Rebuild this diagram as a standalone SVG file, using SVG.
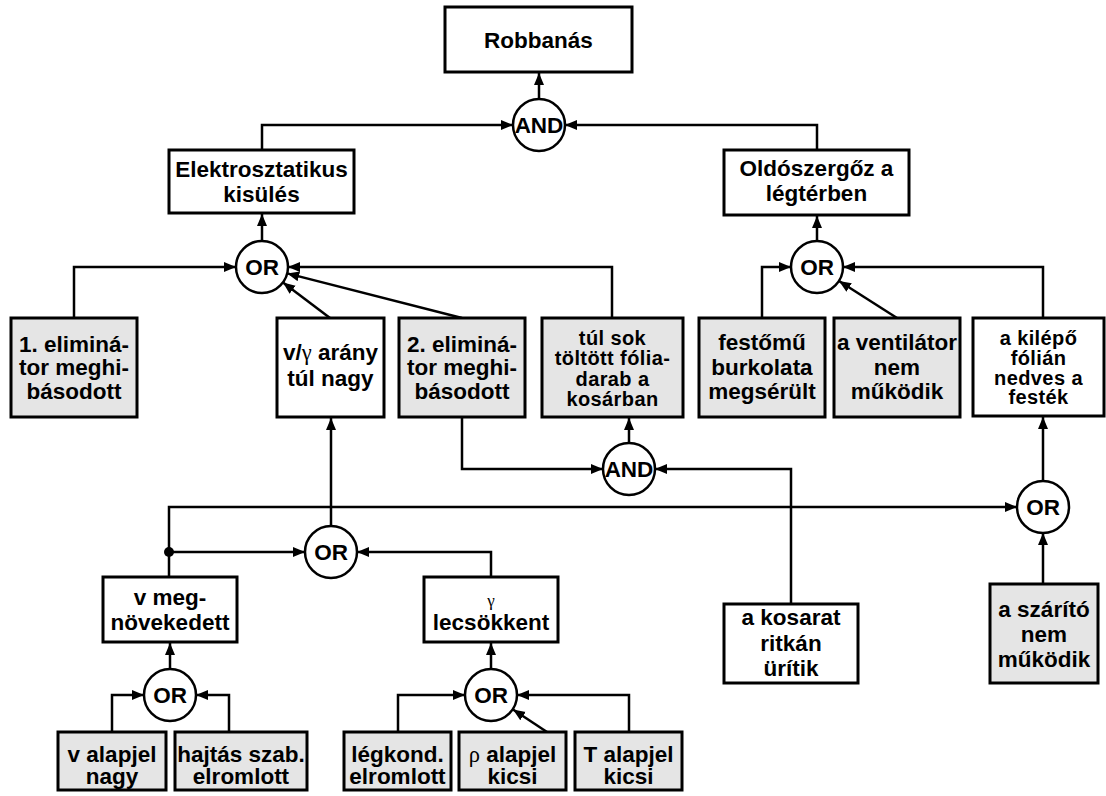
<svg xmlns="http://www.w3.org/2000/svg" width="1106" height="796" viewBox="0 0 1106 796">
<style>
.box{stroke:#000;stroke-width:3;fill:#fff}
.g{fill:#e5e5e5}
.gate{stroke:#000;stroke-width:2.5;fill:#fff}
.t{font-family:"Liberation Sans",Arial,sans-serif;font-weight:bold;font-size:22.5px;text-anchor:middle;fill:#000}
.s{font-size:20px;letter-spacing:0.4px}
.sym{font-family:"Liberation Serif","DejaVu Serif",serif;font-weight:normal}
.c{fill:none;stroke:#000;stroke-width:2.5}
</style>
<defs>
<marker id="ah" markerUnits="userSpaceOnUse" markerWidth="13" markerHeight="11" refX="12" refY="5" orient="auto" viewBox="0 0 13 11">
<path d="M0,0 L12,5 L0,10 z" fill="#000"/>
</marker>
</defs>
<rect width="1106" height="796" fill="#fff"/>
<g id="connectors">
<path class="c" marker-end="url(#ah)" d="M539,99 V73"/>
<path class="c" marker-end="url(#ah)" d="M262,150 V125 H513"/>
<path class="c" marker-end="url(#ah)" d="M817,150 V125 H565"/>
<path class="c" marker-end="url(#ah)" d="M262,241 V214"/>
<path class="c" marker-end="url(#ah)" d="M74,318 V267 H236"/>
<path class="c" marker-end="url(#ah)" d="M330,318 L283,282.6"/>
<path class="c" marker-end="url(#ah)" d="M462,318 L287.2,273.4"/>
<path class="c" marker-end="url(#ah)" d="M612,318 V267 H288"/>
<path class="c" marker-end="url(#ah)" d="M817,241 V216"/>
<path class="c" marker-end="url(#ah)" d="M762,318 V267 H791"/>
<path class="c" marker-end="url(#ah)" d="M897,318 L839,281"/>
<path class="c" marker-end="url(#ah)" d="M1043,318 V267 H843"/>
<path class="c" marker-end="url(#ah)" d="M629,443 V418"/>
<path class="c" marker-end="url(#ah)" d="M462,417 V469 H603"/>
<path class="c" marker-end="url(#ah)" d="M791,604 V469 H655"/>
<path class="c" marker-end="url(#ah)" d="M1043,481 V417"/>
<path class="c" marker-end="url(#ah)" d="M1043,584 V533"/>
<path class="c" marker-end="url(#ah)" d="M169,577 V507 H1017"/>
<path class="c" marker-end="url(#ah)" d="M169,552 H305"/>
<circle cx="169" cy="552" r="5" fill="#000"/>
<path class="c" marker-end="url(#ah)" d="M331,526 V418"/>
<path class="c" marker-end="url(#ah)" d="M491,577 V552 H357"/>
<path class="c" marker-end="url(#ah)" d="M170,669 V643"/>
<path class="c" marker-end="url(#ah)" d="M112,732 V695 H144"/>
<path class="c" marker-end="url(#ah)" d="M229,732 V695 H196"/>
<path class="c" marker-end="url(#ah)" d="M491,669 V643"/>
<path class="c" marker-end="url(#ah)" d="M398,732 V695 H465"/>
<path class="c" marker-end="url(#ah)" d="M547,732 L513,709.5"/>
<path class="c" marker-end="url(#ah)" d="M629,732 V695 H517"/>
</g>
<g id="robbanas"><rect class="box" x="445" y="7" width="187" height="65"/><text class="t" x="538.5" y="48">Robbanás</text></g>
<g id="and-top"><circle class="gate" cx="539" cy="125" r="26"/><text class="t" x="539" y="133">AND</text></g>
<g id="elektro"><rect class="box" x="169" y="150" width="185" height="63"/><text class="t" x="261.5" y="177">Elektrosztatikus</text><text class="t" x="261.5" y="202">kisülés</text></g>
<g id="oldoszer"><rect class="box" x="724" y="150" width="185" height="65"/><text class="t" x="816.5" y="176">Oldószergőz a</text><text class="t" x="816.5" y="201">légtérben</text></g>
<g id="or-left"><circle class="gate" cx="262" cy="267" r="26"/><text class="t" x="262" y="275">OR</text></g>
<g id="or-right"><circle class="gate" cx="817" cy="267" r="26"/><text class="t" x="817" y="275">OR</text></g>
<g id="elim1"><rect class="box g" x="11" y="318" width="126" height="99"/><text class="t" x="74" y="352">1. eliminá-</text><text class="t" x="74" y="375">tor meghi-</text><text class="t" x="74" y="399">básodott</text></g>
<g id="vgamma"><rect class="box" x="277" y="318" width="107" height="99"/><text class="t" x="330.5" y="360">v/<tspan class="sym">γ</tspan> arány</text><text class="t" x="330.5" y="386">túl nagy</text></g>
<g id="elim2"><rect class="box g" x="399" y="318" width="126" height="99"/><text class="t" x="462" y="352">2. eliminá-</text><text class="t" x="462" y="375">tor meghi-</text><text class="t" x="462" y="399">básodott</text></g>
<g id="tulsok"><rect class="box g" x="542" y="318" width="141" height="99"/><text class="t s" x="612.5" y="345">túl sok</text><text class="t s" x="612.5" y="365">töltött fólia-</text><text class="t s" x="612.5" y="386">darab a</text><text class="t s" x="612.5" y="406">kosárban</text></g>
<g id="festomu"><rect class="box g" x="699" y="318" width="126" height="99"/><text class="t" x="762" y="350">festőmű</text><text class="t" x="762" y="375">burkolata</text><text class="t" x="762" y="399">megsérült</text></g>
<g id="ventilator"><rect class="box g" x="834" y="318" width="126" height="99"/><text class="t" x="897" y="350">a ventilátor</text><text class="t" x="897" y="375">nem</text><text class="t" x="897" y="399">működik</text></g>
<g id="kilepo"><rect class="box" x="973" y="318" width="131" height="98"/><text class="t s" x="1038.5" y="345">a kilépő</text><text class="t s" x="1038.5" y="365">fólián</text><text class="t s" x="1038.5" y="385">nedves a</text><text class="t s" x="1038.5" y="404">festék</text></g>
<g id="and-mid"><circle class="gate" cx="629" cy="469" r="26"/><text class="t" x="629" y="477">AND</text></g>
<g id="or-kilepo"><circle class="gate" cx="1043" cy="507" r="26"/><text class="t" x="1043" y="515">OR</text></g>
<g id="or-mid"><circle class="gate" cx="331" cy="552" r="26"/><text class="t" x="331" y="560">OR</text></g>
<g id="vmeg"><rect class="box" x="103" y="577" width="134" height="65"/><text class="t" x="170" y="605">v meg-</text><text class="t" x="170" y="630">növekedett</text></g>
<g id="glecs"><rect class="box" x="424" y="577" width="134" height="65"/><text class="t sym" x="491" y="606" style="font-size:17px">γ</text><text class="t" x="491" y="630">lecsökkent</text></g>
<g id="szarito"><rect class="box g" x="990" y="584" width="108" height="99"/><text class="t" x="1044" y="617">a szárító</text><text class="t" x="1044" y="642">nem</text><text class="t" x="1044" y="667">működik</text></g>
<g id="kosarat"><rect class="box" x="724" y="604" width="134" height="79"/><text class="t" x="791" y="625">a kosarat</text><text class="t" x="791" y="651">ritkán</text><text class="t" x="791" y="676">ürítik</text></g>
<g id="or-vmeg"><circle class="gate" cx="170" cy="695" r="26"/><text class="t" x="170" y="703">OR</text></g>
<g id="or-glecs"><circle class="gate" cx="491" cy="695" r="26"/><text class="t" x="491" y="703">OR</text></g>
<g id="valapjel"><rect class="box g" x="58" y="732" width="108" height="58"/><text class="t" x="112" y="762">v alapjel</text><text class="t" x="112" y="784">nagy</text></g>
<g id="hajtas"><rect class="box g" x="175" y="732" width="132" height="58"/><text class="t" x="241" y="762">hajtás szab.</text><text class="t" x="241" y="784">elromlott</text></g>
<g id="legkond"><rect class="box g" x="344" y="732" width="107" height="58"/><text class="t" x="397.5" y="762">légkond.</text><text class="t" x="397.5" y="784">elromlott</text></g>
<g id="rho"><rect class="box g" x="459" y="732" width="107" height="58"/><text class="t" x="512.5" y="762"><tspan class="sym">ρ</tspan> alapjel</text><text class="t" x="512.5" y="784">kicsi</text></g>
<g id="talapjel"><rect class="box g" x="575" y="732" width="107" height="58"/><text class="t" x="628.5" y="762">T alapjel</text><text class="t" x="628.5" y="784">kicsi</text></g>
</svg>
